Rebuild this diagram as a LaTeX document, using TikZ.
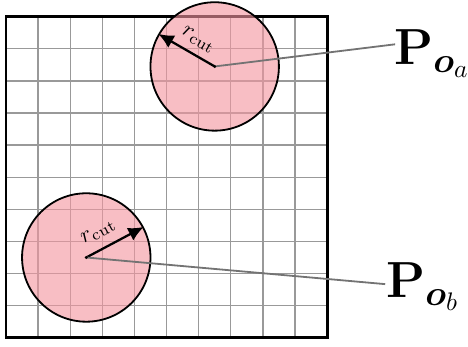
\RequirePackage{fix-cm}
\documentclass[tikz,border=0pt]{standalone}
\usepackage{amsmath}
\usetikzlibrary{arrows.meta}
\definecolor{disk}{RGB}{243,150,160}
\tikzset{
  gridline/.style={draw=black!40, line width=0.6pt},
  frame/.style={draw=black, line width=1.3pt},
  cutdisk/.style={circle, draw=black, line width=0.8pt, fill=disk, fill opacity=0.62, text opacity=1, minimum size=2cm, inner sep=0pt},
  radius arrow/.style={-{Latex[length=2.4mm,width=2.2mm]}, line width=1pt, black},
  leader/.style={draw=black!55, line width=0.8pt},
  plabel/.style={inner sep=0pt, anchor=base west, font=\fontsize{22.5}{27}\selectfont},
  rlabel/.style={inner sep=0pt, font=\normalsize}
}
\begin{document}
\begin{tikzpicture}[x=0.5cm, y=0.5cm]
  \useasboundingbox (-0.187,-0.28) rectangle (14.39,10.52);
  \draw[gridline, step=0.5cm] (0,0) grid (10,10);
  \draw[frame] (0,0) rectangle (10,10);

  \coordinate (ca) at (6.5,8.45);
  \coordinate (cb) at (2.5,2.5);
  \node[cutdisk] (A) at (ca) {};
  \node[cutdisk] (B) at (cb) {};

  \draw[radius arrow] (ca) -- (A.150);
  \draw[radius arrow] (cb) -- (B.28);
  \node[rlabel, rotate=-30] (ra) at (5.99,9.27) {$r_{\text{cut}}$};
  \node[rlabel, rotate=28] (rb) at (2.88,3.30) {$r_{\text{cut}}$};

  \node[plabel] (Pa) at (12.08,8.50) {$\mathbf{P}_{\boldsymbol{o}_a}$};
  \node[plabel] (Pb) at (11.83,1.25) {$\mathbf{P}_{\boldsymbol{o}_b}$};
  \coordinate (ea) at (12.12,9.14);
  \coordinate (eb) at (11.81,1.67);
  \draw[leader] (ca) -- (ea);
  \draw[leader] (cb) -- (eb);

  \fill[black] (ca) circle (0.05);
  \fill[black] (cb) circle (0.05);
\end{tikzpicture}
\end{document}
